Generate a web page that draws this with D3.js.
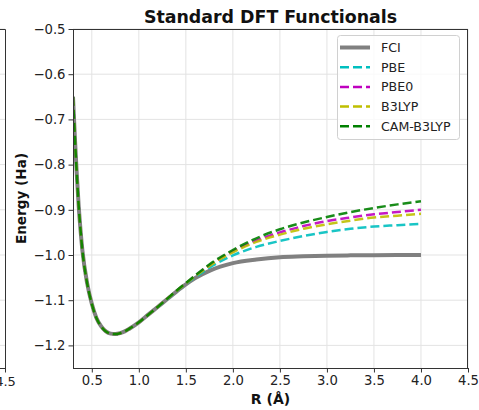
<!DOCTYPE html>
<html>
<head>
<meta charset="utf-8">
<script src="https://cdn.jsdelivr.net/npm/d3@7"></script>
<style>
  html, body { margin: 0; padding: 0; background: #fff; }
  svg { display: block; font-family: "DejaVu Sans", sans-serif; }
</style>
</head>
<body>
<svg id="chart" width="479" height="410"></svg>
<script>
// ---- Data ----
const R = [0.30, 0.32, 0.34, 0.36, 0.38, 0.40, 0.45, 0.50, 0.55, 0.60, 0.65, 0.70, 0.75, 0.80, 0.85, 0.90,
           1.00, 1.10, 1.20, 1.30, 1.40, 1.50, 1.60, 1.75, 2.00, 2.25, 2.50, 2.75, 3.00, 3.25, 3.50, 3.75, 4.00];

const fci   = [-0.650, -0.740, -0.820, -0.890, -0.945, -0.990, -1.062, -1.108, -1.140, -1.158, -1.169, -1.174, -1.175, -1.173, -1.169, -1.163,
               -1.149, -1.132, -1.115, -1.098, -1.081, -1.065, -1.051, -1.035, -1.018, -1.010, -1.005, -1.003, -1.0015, -1.0008, -1.0004, -1.0002, -1.0000];
const pbe   = [-0.650, -0.740, -0.820, -0.890, -0.945, -0.990, -1.062, -1.108, -1.140, -1.158, -1.169, -1.174, -1.175, -1.173, -1.169, -1.163,
               -1.149, -1.132, -1.115, -1.098, -1.081, -1.064, -1.049, -1.028, -1.001, -0.982, -0.969, -0.958, -0.949, -0.942, -0.937, -0.934, -0.931];
const pbe0  = [-0.650, -0.740, -0.820, -0.890, -0.945, -0.990, -1.062, -1.108, -1.140, -1.158, -1.169, -1.174, -1.175, -1.173, -1.169, -1.163,
               -1.149, -1.132, -1.115, -1.097, -1.080, -1.063, -1.046, -1.023, -0.992, -0.968, -0.950, -0.936, -0.925, -0.917, -0.910, -0.905, -0.900];
const b3lyp = [-0.650, -0.740, -0.820, -0.890, -0.945, -0.990, -1.062, -1.108, -1.140, -1.158, -1.169, -1.174, -1.175, -1.173, -1.169, -1.163,
               -1.149, -1.132, -1.115, -1.097, -1.080, -1.063, -1.047, -1.024, -0.994, -0.971, -0.955, -0.942, -0.932, -0.924, -0.917, -0.913, -0.909];
const camb3lyp = [-0.650, -0.740, -0.820, -0.890, -0.945, -0.990, -1.062, -1.108, -1.140, -1.158, -1.169, -1.174, -1.175, -1.173, -1.169, -1.163,
               -1.149, -1.132, -1.115, -1.097, -1.079, -1.062, -1.045, -1.021, -0.989, -0.963, -0.943, -0.928, -0.916, -0.905, -0.896, -0.888, -0.881];

const seriesNames = ["FCI", "PBE", "PBE0", "B3LYP", "CAM-B3LYP"];
const seriesValues = [fci, pbe, pbe0, b3lyp, camb3lyp];
const seriesColors = ["#808080", "#00bfbf", "#bf00bf", "#bfbf00", "#008000"];

const xTicks = [0.5, 1.0, 1.5, 2.0, 2.5, 3.0, 3.5, 4.0, 4.5];
const yTicks = [-1.2, -1.1, -1.0, -0.9, -0.8, -0.7, -0.6, -0.5];
const xDomain = [0.3, 4.5];
const yDomain = [-1.25, -0.5];

const title = "Standard DFT Functionals";
const xLabel = "R (Å)";
const yLabel = "Energy (Ha)";

// ---- Layout ----
const svg = d3.select("#chart");
const L = 73, Rt = 468, T = 29, B = 368;

const x = d3.scaleLinear().domain(xDomain).range([L, Rt]);
const y = d3.scaleLinear().domain(yDomain).range([B, T]);

// Partial neighbouring subplot at the far left (cut off by the picture edge)
const left = svg.append("g");
yTicks.forEach(v => {
  left.append("line").attr("x1", 0).attr("x2", 5).attr("y1", y(v)).attr("y2", y(v))
    .attr("stroke", "#e3e3e3").attr("stroke-width", 1);
});
left.append("path").attr("d", `M0,${T + 0.5}H5.5V${B + 0.5}H0`).attr("fill", "none")
  .attr("stroke", "#333").attr("stroke-width", 1);
left.append("line").attr("x1", 5.5).attr("x2", 5.5).attr("y1", B).attr("y2", B + 4.5)
  .attr("stroke", "#333").attr("stroke-width", 1);
left.append("text").attr("x", 5.5).attr("y", B + 17.5).attr("text-anchor", "middle")
  .attr("font-size", 13).attr("fill", "#222").text("4.5");

// Grid
const grid = svg.append("g");
xTicks.forEach(v => {
  grid.append("line").attr("x1", x(v)).attr("x2", x(v)).attr("y1", T).attr("y2", B)
    .attr("stroke", "#e3e3e3").attr("stroke-width", 1);
});
yTicks.forEach(v => {
  grid.append("line").attr("x1", L).attr("x2", Rt).attr("y1", y(v)).attr("y2", y(v))
    .attr("stroke", "#e3e3e3").attr("stroke-width", 1);
});

// Lines
svg.append("clipPath").attr("id", "clip").append("rect")
  .attr("x", L).attr("y", T).attr("width", Rt - L).attr("height", B - T);

const line = d3.line().x(d => x(d[0])).y(d => y(d[1])).curve(d3.curveMonotoneX);
const plot = svg.append("g").attr("clip-path", "url(#clip)");
seriesValues.forEach((vals, i) => {
  const pts = R.map((r, k) => [r, vals[k]]);
  plot.append("path").datum(pts).attr("d", line)
    .attr("fill", "none")
    .attr("stroke", seriesColors[i])
    .attr("stroke-width", i === 0 ? 4 : 2.5)
    .attr("stroke-dasharray", i === 0 ? null : "9,4")
    .attr("stroke-opacity", i === 0 ? 1 : 0.9)
    .attr("stroke-linejoin", "round");
});

// Axes
const xAxis = d3.axisBottom(x).tickValues(xTicks).tickFormat(d3.format(".1f")).tickSize(4.5).tickPadding(3);
const yAxis = d3.axisLeft(y).tickValues(yTicks).tickFormat(d3.format(".1f")).tickSize(4.5).tickPadding(3);

const gx = svg.append("g").attr("transform", `translate(0,${B})`).call(xAxis);
const gy = svg.append("g").attr("transform", `translate(${L},0)`).call(yAxis);
[gx, gy].forEach(g => {
  g.attr("font-family", "DejaVu Sans").attr("font-size", 13.2);
  g.select(".domain").remove();
  g.selectAll("line").attr("stroke", "#333");
  g.selectAll("text").attr("fill", "#222");
});

// Frame
svg.append("rect").attr("x", L + 0.5).attr("y", T + 0.5).attr("width", Rt - L - 1).attr("height", B - T)
  .attr("fill", "none").attr("stroke", "#333").attr("stroke-width", 1);

// Title and labels
svg.append("text").attr("x", (L + Rt) / 2).attr("y", 23).attr("text-anchor", "middle")
  .attr("font-size", 17.4).attr("font-weight", "bold").attr("fill", "#111").text(title);
svg.append("text").attr("x", (L + Rt) / 2).attr("y", 404).attr("text-anchor", "middle")
  .attr("font-size", 14).attr("font-weight", "bold").attr("fill", "#111").text(xLabel);
svg.append("text").attr("transform", `translate(26,${(T + B) / 2}) rotate(-90)`).attr("text-anchor", "middle")
  .attr("font-size", 13.6).attr("font-weight", "bold").attr("fill", "#111").text(yLabel);

// Legend
const lg = svg.append("g");
lg.append("rect").attr("x", 337.5).attr("y", 35.5).attr("width", 122).attr("height", 104).attr("rx", 3)
  .attr("fill", "#fff").attr("fill-opacity", 0.8).attr("stroke", "#d0d0d0").attr("stroke-width", 1);
seriesNames.forEach((name, i) => {
  const cy = 47.5 + i * 19.7;
  lg.append("line").attr("x1", 340).attr("x2", 370).attr("y1", cy).attr("y2", cy)
    .attr("stroke", seriesColors[i]).attr("stroke-width", i === 0 ? 4 : 2.5)
    .attr("stroke-dasharray", i === 0 ? null : "9,4");
  lg.append("text").attr("x", 381).attr("y", cy + 4.5).attr("font-size", 12.6).attr("fill", "#222").text(name);
});
</script>
</body>
</html>
